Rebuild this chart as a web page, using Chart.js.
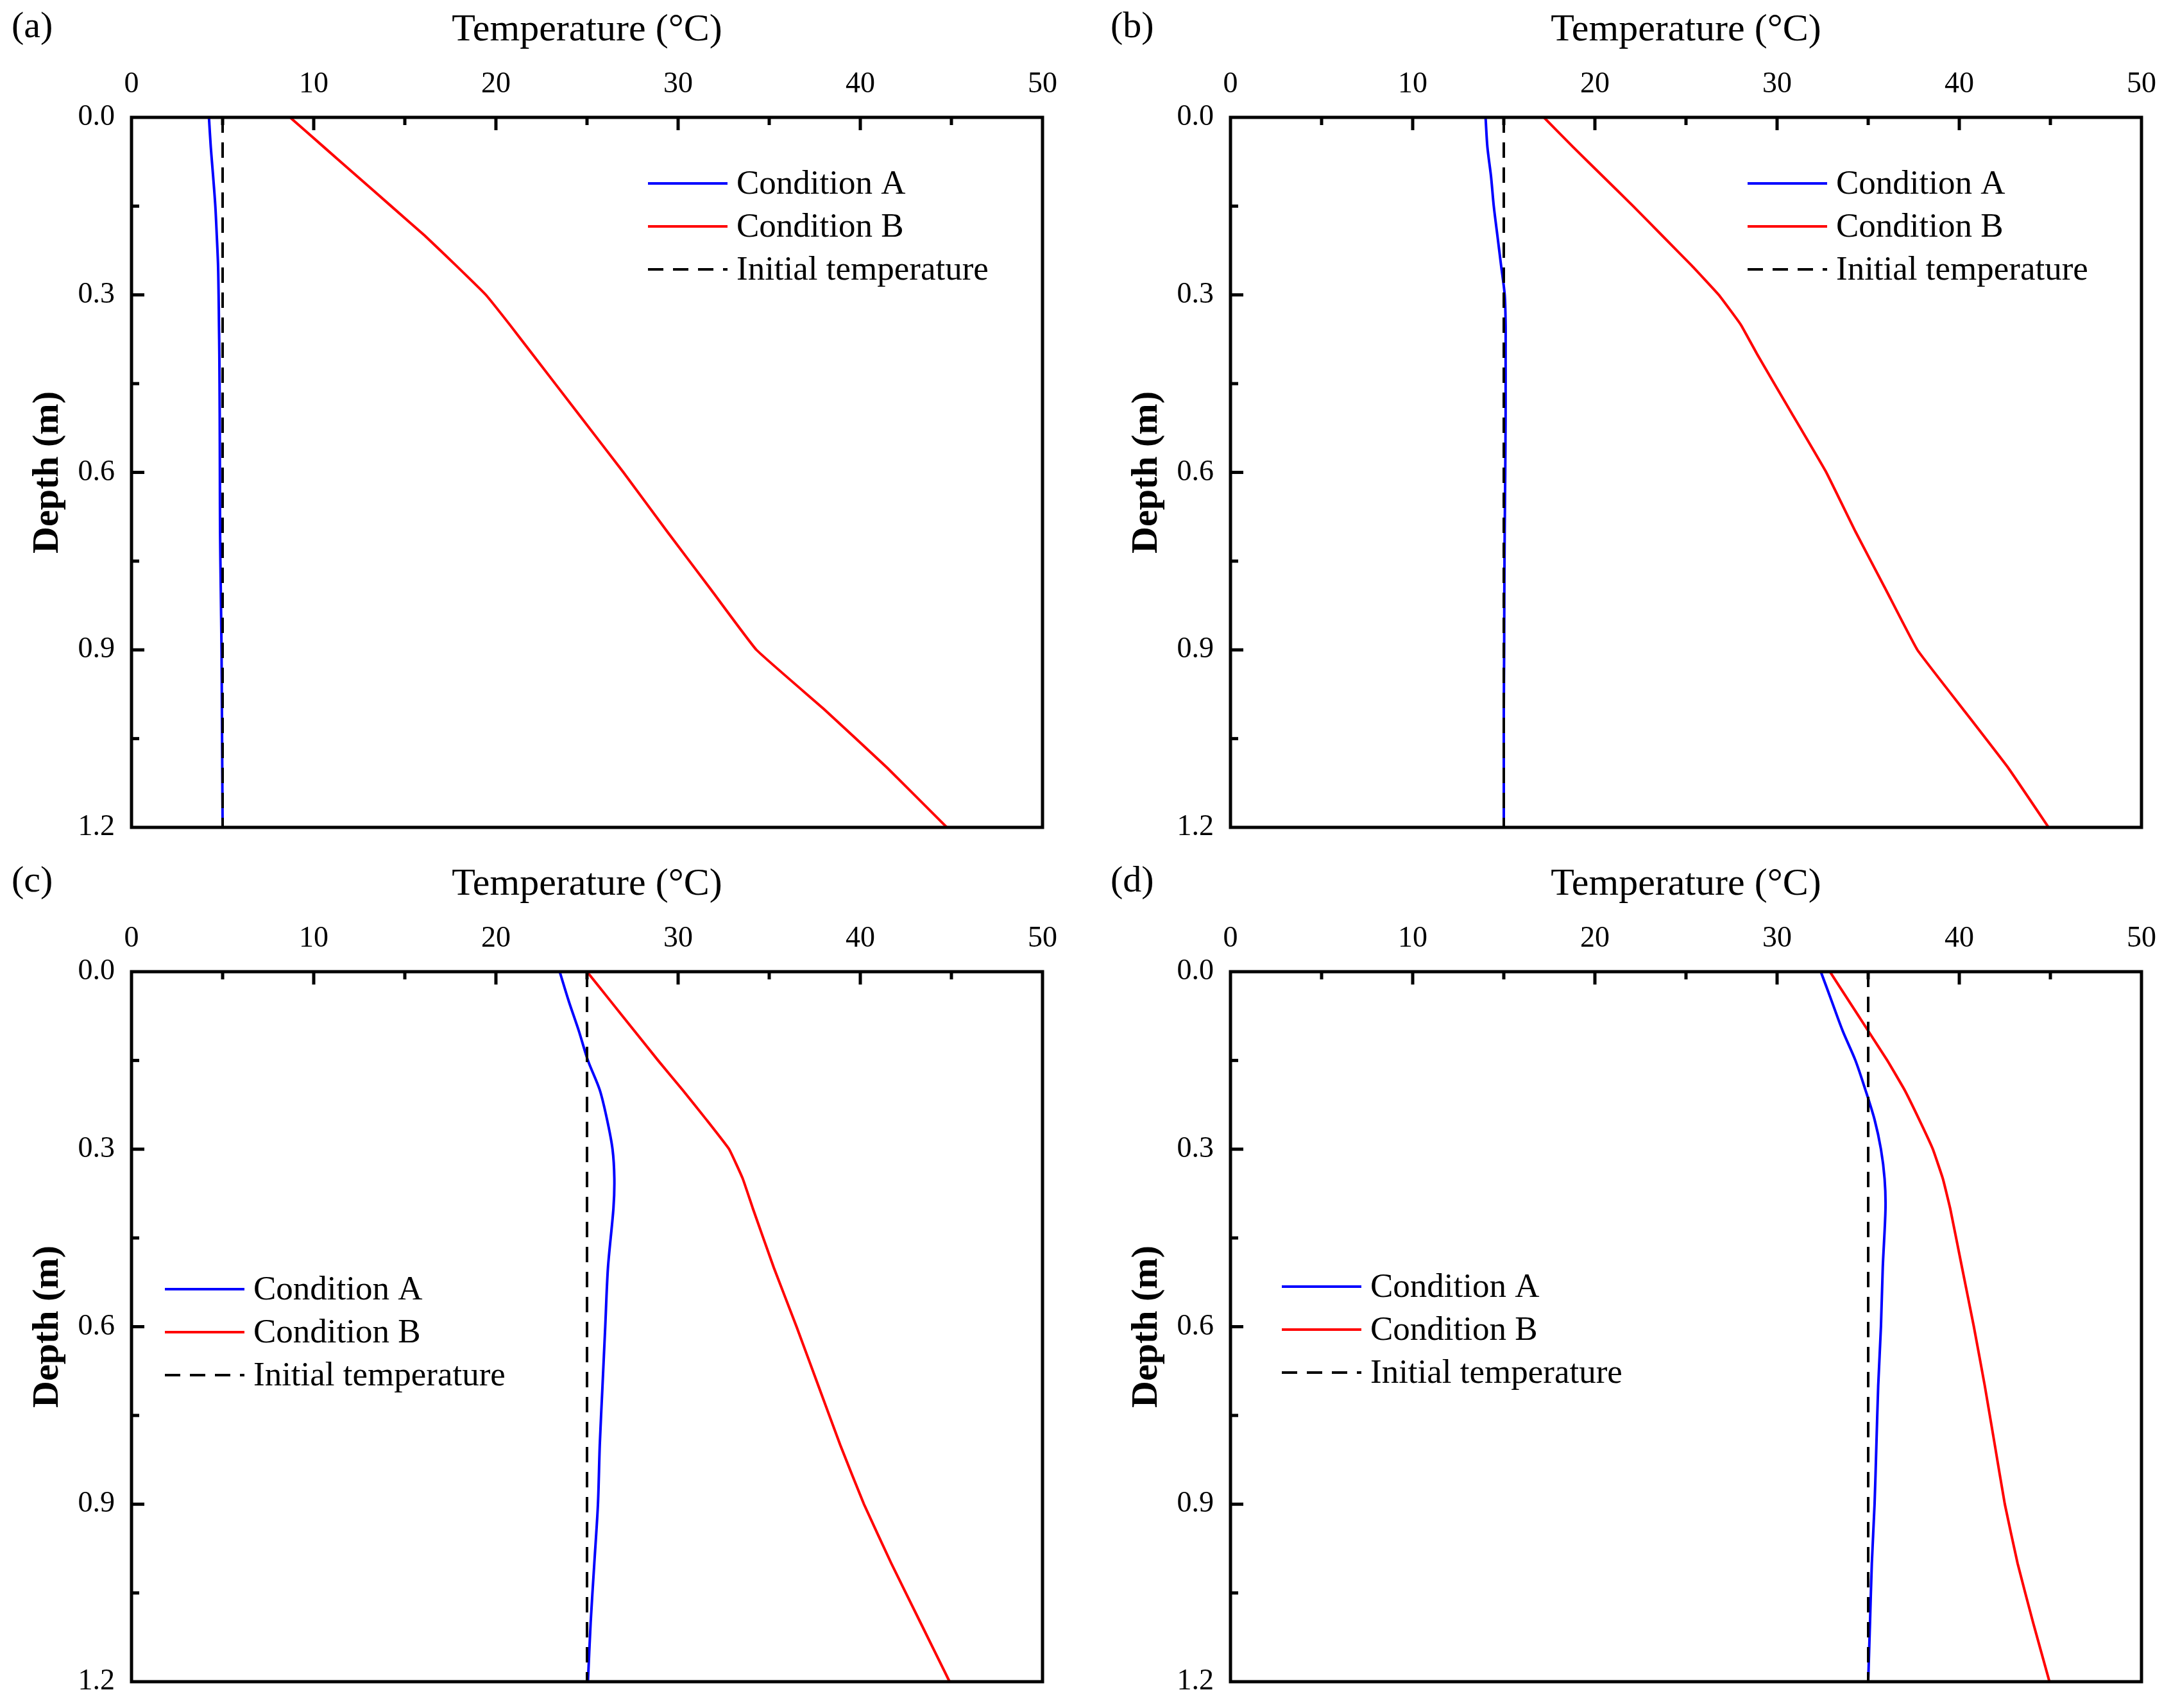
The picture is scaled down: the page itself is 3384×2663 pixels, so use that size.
<!DOCTYPE html>
<html>
<head>
<meta charset="utf-8">
<title>Temperature profiles</title>
<script src="https://cdn.jsdelivr.net/npm/chart.js@4.4.1/dist/chart.umd.min.js"></script>
<style>
  html, body { margin: 0; padding: 0; background: #fff; overflow: hidden; }
  #page { position: relative; width: 3384px; height: 2663px; overflow: hidden; }
  .panel { position: absolute; width: 1692px; height: 1344px; }
</style>
</head>
<body>
<div id="page">
  <div class="panel" style="left:0px;top:0px"><canvas id="grafica-a" width="1692" height="1344"></canvas></div>
  <div class="panel" style="left:1713px;top:0px"><canvas id="grafica-b" width="1692" height="1344"></canvas></div>
  <div class="panel" style="left:0px;top:1332px"><canvas id="grafica-c" width="1692" height="1344"></canvas></div>
  <div class="panel" style="left:1713px;top:1332px"><canvas id="grafica-d" width="1692" height="1344"></canvas></div>
</div>
<script>
// Depth of each reading (m)
const depth = [0, 0.05, 0.1, 0.15, 0.2, 0.25, 0.3, 0.35, 0.4, 0.5, 0.6, 0.7, 0.8, 0.9, 1.0, 1.1, 1.2];

// Temperatures (°C)
const condA_a = [4.25, 4.35, 4.48, 4.6, 4.68, 4.75, 4.78, 4.8, 4.82, 4.84, 4.85, 4.86, 4.9, 4.94, 4.96, 4.98, 5.0];
const condB_a = [8.7, 10.55, 12.4, 14.25, 16.1, 17.8, 19.45, 20.75, 22.0, 24.5, 27.0, 29.4, 31.85, 34.3, 38.0, 41.5, 44.75];

const condA_b = [14.0, 14.1, 14.3, 14.45, 14.65, 14.85, 15.05, 15.1, 15.1, 15.1, 15.08, 15.05, 15.03, 15.02, 15.0, 15.0, 15.0];
const condB_b = [17.2, 18.8, 20.45, 22.1, 23.7, 25.3, 26.8, 28.0, 28.9, 30.8, 32.7, 34.3, 36.0, 37.7, 40.2, 42.7, 44.9];

const condA_c = [23.5, 24.0, 24.55, 25.05, 25.7, 26.1, 26.4, 26.5, 26.45, 26.15, 26.0, 25.85, 25.7, 25.6, 25.4, 25.2, 25.05];
const condB_c = [25.0, 26.3, 27.6, 28.9, 30.25, 31.55, 32.8, 33.55, 34.1, 35.25, 36.5, 37.7, 38.9, 40.2, 41.7, 43.3, 44.9];

const condA_d = [32.4, 33.0, 33.6, 34.3, 34.85, 35.35, 35.7, 35.9, 35.95, 35.8, 35.7, 35.55, 35.45, 35.35, 35.2, 35.1, 35.0];
const condB_d = [32.9, 33.95, 35.0, 36.05, 37.0, 37.8, 38.55, 39.1, 39.5, 40.15, 40.8, 41.4, 41.95, 42.5, 43.2, 44.05, 44.95];

// Initial temperature of each case (°C)
const initialTemp = [5, 15, 25, 35];

// Axis ticks
const tempTicks = [0, 10, 20, 30, 40, 50];
const depthTicks = [0, 0.3, 0.6, 0.9, 1.2];

const seriesNames = ["Condition A", "Condition B", "Initial temperature"];
const panelLabels = ["(a)", "(b)", "(c)", "(d)"];

const SERIF = "'Liberation Serif', 'Times New Roman', serif";
const DASH = [24, 15];

document.addEventListener("DOMContentLoaded", function () {
  crearPanel("grafica-a", condA_a, condB_a, initialTemp[0], panelLabels[0], { x: 805, y: 103 });
  crearPanel("grafica-b", condA_b, condB_b, initialTemp[1], panelLabels[1], { x: 806, y: 103 });
  crearPanel("grafica-c", condA_c, condB_c, initialTemp[2], panelLabels[2], { x: 52, y: 495 });
  crearPanel("grafica-d", condA_d, condB_d, initialTemp[3], panelLabels[3], { x: 80, y: 491 });
});

// Frame, inward ticks, legend and panel letter
const decoracion = {
  id: "decoracion",
  afterDatasetsDraw(chart, args, opts) {
    const ctx = chart.ctx;
    const ca = chart.chartArea;
    const xs = chart.scales.x;
    const ys = chart.scales.y;
    ctx.save();
    ctx.strokeStyle = "#000";
    ctx.lineWidth = 5;
    ctx.setLineDash([]);

    // ticks on the top axis (major every 10, minor every 5)
    for (let v = 5; v < 50; v += 5) {
      const px = xs.getPixelForValue(v);
      const len = v % 10 === 0 ? 20 : 12;
      ctx.beginPath();
      ctx.moveTo(px, ca.top);
      ctx.lineTo(px, ca.top + len);
      ctx.stroke();
    }
    // ticks on the left axis (major every 0.3, minor every 0.15)
    for (let i = 1; i < 8; i++) {
      const py = ys.getPixelForValue(i * 0.15);
      const len = i % 2 === 0 ? 20 : 12;
      ctx.beginPath();
      ctx.moveTo(ca.left, py);
      ctx.lineTo(ca.left + len, py);
      ctx.stroke();
    }
    // frame
    ctx.strokeRect(ca.left, ca.top, ca.right - ca.left, ca.bottom - ca.top);

    // legend
    const x0 = ca.left + opts.legend.x;
    const y0 = ca.top + opts.legend.y;
    ctx.font = "53px " + SERIF;
    ctx.textBaseline = "middle";
    ctx.textAlign = "left";
    ctx.fillStyle = "#000";
    chart.data.datasets.forEach(function (ds, i) {
      const yy = y0 + i * 67;
      ctx.strokeStyle = ds.borderColor;
      ctx.lineWidth = 4;
      ctx.setLineDash(ds.borderDash || []);
      ctx.beginPath();
      ctx.moveTo(x0, yy);
      ctx.lineTo(x0 + 124, yy);
      ctx.stroke();
      ctx.fillText(ds.label, x0 + 138, yy + 2);
    });

    // panel letter
    ctx.setLineDash([]);
    ctx.font = "58px " + SERIF;
    ctx.fillText(opts.letra, 18, 43);
    ctx.restore();
  },
};

function crearPanel(id, serieA, serieB, inicial, letra, posLeyenda) {
  const ctx = document.getElementById(id).getContext("2d");

  const datos = {
    datasets: [
      {
        label: seriesNames[0],
        data: depth.map((d, i) => ({ x: serieA[i], y: d })),
        borderColor: "#0000FF",
        borderWidth: 4,
        pointRadius: 0,
        tension: 0.3,
        order: 2,
      },
      {
        label: seriesNames[1],
        data: depth.map((d, i) => ({ x: serieB[i], y: d })),
        borderColor: "#FF0000",
        borderWidth: 4,
        pointRadius: 0,
        tension: 0.1,
        order: 1,
      },
      {
        label: seriesNames[2],
        data: [
          { x: inicial, y: depth[0] },
          { x: inicial, y: depth[depth.length - 1] },
        ],
        borderColor: "#000000",
        borderWidth: 4,
        borderDash: DASH,
        pointRadius: 0,
        order: 0,
      },
    ],
  };

  new Chart(ctx, {
    type: "line",
    data: datos,
    options: {
      responsive: false,
      animation: false,
      events: [],
      layout: { padding: { left: 0, top: 0, right: 67, bottom: 54 } },
      plugins: {
        legend: { display: false },
        tooltip: { enabled: false },
        decoracion: { legend: posLeyenda, letra: letra },
      },
      scales: {
        x: {
          type: "linear",
          position: "top",
          min: 0,
          max: 50,
          afterFit: function (s) { s.height = 183; },
          afterBuildTicks: function (s) { s.ticks = tempTicks.map((v) => ({ value: v })); },
          grid: { display: false, drawTicks: false },
          border: { display: false },
          ticks: { color: "#000", padding: 23, font: { family: SERIF, size: 46 } },
          title: {
            display: true,
            text: "Temperature (°C)",
            color: "#000",
            font: { family: SERIF, size: 60 },
            padding: { top: 11, bottom: 0 },
          },
        },
        y: {
          type: "linear",
          reverse: true,
          min: 0,
          max: 1.2,
          afterFit: function (s) { s.width = 205; },
          afterBuildTicks: function (s) { s.ticks = depthTicks.map((v) => ({ value: v })); },
          grid: { display: false, drawTicks: false },
          border: { display: false },
          ticks: {
            color: "#000",
            padding: 26,
            font: { family: SERIF, size: 46 },
            callback: (v) => Number(v).toFixed(1),
          },
          title: {
            display: true,
            text: "Depth (m)",
            color: "#000",
            font: { family: SERIF, size: 58, weight: "bold" },
            padding: { top: 40, bottom: 0 },
          },
        },
      },
    },
    plugins: [decoracion],
  });
}
</script>
</body>
</html>
